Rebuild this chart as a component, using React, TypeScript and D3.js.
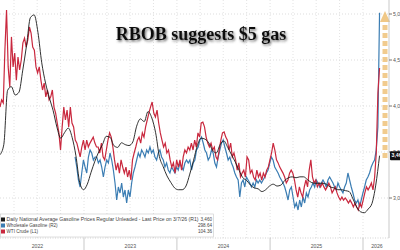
import * as React from 'react';
import * as d3 from 'd3';

// Daily national average gasoline price, $/gal (R1), evenly spaced Feb 2022 -> 3/7/26
const gasPrice = [
  3.47, 3.58, 4.17, 4.21, 4.12, 4.15, 4.39, 4.66, 4.96, 4.99, 4.80, 4.47, 4.25, 4.09, 3.95, 3.77, 3.65, 3.71, 3.76, 3.66,
  3.46, 3.17, 3.09, 3.15, 3.28, 3.40, 3.50, 3.58, 3.67, 3.66, 3.57, 3.55, 3.60, 3.58, 3.57, 3.61, 3.78, 3.86, 3.83, 3.94,
  3.87, 3.71, 3.45, 3.34, 3.24, 3.17, 3.11, 3.09, 3.09, 3.13, 3.26, 3.41, 3.57, 3.65, 3.64, 3.60, 3.52, 3.49, 3.58, 3.62,
  3.55, 3.47, 3.39, 3.30, 3.22, 3.19, 3.14, 3.11, 3.10, 3.07, 3.09, 3.13, 3.15, 3.13, 3.14, 3.19, 3.22, 3.23, 3.22, 3.23,
  3.23, 3.20, 3.17, 3.16, 3.16, 3.16, 3.15, 3.12, 3.11, 3.09, 3.09, 3.08, 3.07, 2.99, 2.90, 2.85, 2.84, 2.88, 2.94, 3.14,
  3.46,
];

// Wholesale gasoline, cents/gal (R2), Nov 2022 -> 3/7/26
const wholesale = [
  226.5, 221.5, 215, 211.5, 218.5, 225, 221.5, 218.5, 226.5, 230, 228.5, 225, 226.5,
  226.5, 223.5, 225, 221.5, 216.5, 221.5, 225, 223.5, 228.5, 225, 220, 213.5, 205, 211.5, 208.5, 213.5, 206.5, 210, 203.5, 210,
  206.5, 213.5, 218.5, 221.5, 225, 228.5, 226.5, 230, 228.5, 226.5, 230, 228.5, 231.5, 228.5, 230, 226.5, 225, 228.5, 230, 226.5,
  225, 221.5, 223.5, 220, 218.5, 221.5, 220, 218.5, 221.5, 220, 223.5, 221.5, 220, 223.5, 225, 223.5, 225,
  220, 223.5, 225, 230, 231.5, 235, 236.5, 233.5, 230, 228.5, 225, 226.5, 230, 228.5, 223.5, 221.5, 226.5, 230, 233.5, 235,
  231.5, 228.5, 225, 226.5, 223.5, 221.5, 218.5, 216.5, 215, 206.5, 213.5, 215, 211.5, 216.5, 215, 213.5, 211.5, 213.5, 211.5, 215,
  213.5, 215, 213.5, 215, 216.5, 218.5, 220, 223.5, 226.5, 225, 221.5, 220, 218.5, 216.5, 215, 213.5,
  211.5, 208.5, 205, 210, 211.5, 206.5, 201.5, 203.5, 200, 205, 201.5, 206.5, 203.5, 208.5, 206.5, 210, 211.5, 213.5, 211.5, 215,
  213.5, 211.5, 213.5, 215, 213.5, 211.5, 215, 216.5, 215, 213.5, 211.5, 210, 213.5, 211.5, 210, 208.5, 211.5, 213.5, 218.5, 215,
  211.5, 208.5, 205, 203.5, 205, 201.5, 205, 208.5, 211.5, 215, 216.5, 218.5, 221.5, 223.5, 225, 230, 241.5, 298.64,
];

// WTI crude, $/bbl (L1), Feb 2022 -> 3/7/26
const wti = [
  91.3, 93.7, 92.7, 110.3, 123.7, 104.7, 98, 114.7, 104.7, 109.3, 100.3, 108, 103.7, 107, 112.7, 114.3, 111.3, 113.7, 118, 116,
  111.3, 110.3, 104.7, 102.7, 104.7, 100.3, 97, 99.3, 94.7, 97, 93.7, 94.7, 97, 91.3, 89.3, 86, 82.7, 77, 84.7, 91.3,
  87, 90.3, 84.7, 91.3, 86, 84.7, 80.3, 79.3, 77, 74.7, 78, 80.3, 77, 80.3, 78, 79.3, 80.3, 81.3, 79.3, 78,
  78, 76, 79.3, 74.7, 73.7, 77, 80.3, 82.7, 81.3, 78, 73.7, 70.3, 72.7, 69.3, 73.7, 71.3, 69.3, 71.3, 68, 70.3,
  67, 73.7, 76, 78, 80.3, 81.3, 79.3, 82.7, 81.3, 84.7, 87, 89.3, 91.3, 93, 89.3, 88, 90.3, 86, 82.7, 80.3,
  78, 79.3, 76, 77, 73.7, 71.3, 72.7, 69.3, 73.7, 71.3, 73.7, 70.3, 74.7, 77, 76, 78, 77,
  79.3, 77, 80.3, 78, 82.7, 81.3, 86, 86.3, 84.7, 81.3, 79.3, 78, 79.3, 77, 78, 74.7, 73.7, 77, 80.3, 82.7,
  83, 81.3, 80.3, 77, 79.3, 74.7, 76, 73.7, 70.3, 72.7, 68, 69.3, 70.3, 68, 74.7, 73.7, 69.3, 70.3, 68, 67,
  70.3, 68, 69.3, 67, 69.3, 68, 70.3, 71.3, 73.7, 76, 79.3, 77, 73.7, 72.7, 71.3, 70.3, 69.3,
  68, 66, 67, 69.3, 70.3, 69.3, 67, 63.7, 61.3, 64.7, 62.7, 61.3, 64.7, 67, 64.7, 70.3, 73.7, 68, 66, 67,
  64.7, 66, 64.7, 66, 64.7, 63.7, 64.7, 66, 64.7, 62.7, 63.7, 64.7, 62.7, 61.3, 60.3, 61.3, 60.3, 61, 60.3, 59.3,
  60.3, 59.3, 58, 59.3, 58, 57, 59.3, 58, 60.3, 62.7, 64.7, 63.7, 64.7, 66, 63.7, 68, 76, 96, 104.36,
];

const rightTicks = [3, 3.5, 4, 4.5, 5];
const yearLabels = ['2022', '2023', '2024', '2025', '2026'];
const legendNames = [
  'Daily National Average Gasoline Prices Regular Unleaded - Last Price on 3/7/26 (R1)',
  'Wholesale Gasoline (R2)',
  'WTI Crude (L1)',
];
const legendValues = ['3,460', '298.64', '104.36'];
const lastGas = '3,460';

const W = 400;
const H = 250;
const plotRight = 389;
const plotBottom = 238;

const x = d3.scaleTime()
  .domain([new Date(2023, 0, 1), new Date(2026, 0, 1)])
  .range([84, 363]);
const yGas = d3.scaleLinear().domain([3, 5]).range([198, 14]);
const yWholesale = d3.scaleLinear().domain([305, 180]).range([0, 250]);
const yWti = d3.scaleLinear().domain([127, 60]).range([0, 201]);

const startMain = new Date(2022, 1, 5);
const startWholesale = new Date(2022, 10, 27);
const endDate = new Date(2026, 2, 7);

const pts = (vals: number[], start: Date) => {
  const t = d3.scaleLinear().domain([0, vals.length - 1]).range([start.getTime(), endDate.getTime()]);
  return vals.map((v, i) => ({ date: new Date(t(i)), v }));
};

const App = () => {
  const gasLine = d3.line<{ date: Date; v: number }>().x(d => x(d.date)).y(d => yGas(d.v)).curve(d3.curveMonotoneX);
  const wsLine = d3.line<{ date: Date; v: number }>().x(d => x(d.date)).y(d => yWholesale(d.v));
  const wtiLine = d3.line<{ date: Date; v: number }>().x(d => x(d.date)).y(d => yWti(d.v));

  const quarters = d3.timeMonth.every(3)!.range(new Date(2022, 3, 1), new Date(2026, 1, 1));
  const yearStarts = d3.timeYear.range(new Date(2023, 0, 1), new Date(2026, 0, 2));
  const yearCenters = [
    x(new Date(2022, 6, 2)), x(new Date(2023, 6, 2)), x(new Date(2024, 6, 2)), x(new Date(2025, 6, 2)),
    (x(new Date(2026, 0, 1)) + plotRight) / 2 + 1,
  ];
  const legendColors = ['#1a1a1a', '#3b7db3', '#c9283e'];
  const arrowX = 385;

  return (
    <svg width={W} height={H} style={{ position: 'absolute', left: 0, top: 0, background: '#fff' }}
      fontFamily="'Liberation Sans', Arial, sans-serif">
      <defs>
        <filter id="shadow" x="-10%" y="-30%" width="130%" height="180%">
          <feDropShadow dx="1.2" dy="1.5" stdDeviation="1.1" floodColor="#444" floodOpacity="0.8" />
        </filter>
      </defs>

      {/* grid */}
      {rightTicks.map(t => (
        <line key={t} x1={0} x2={plotRight} y1={yGas(t)} y2={yGas(t)} stroke="#d4d4d4" strokeWidth={0.8} strokeDasharray="1,2" />
      ))}
      {quarters.map(q => (
        <line key={+q} x1={x(q)} x2={x(q)} y1={0} y2={plotBottom} stroke="#dcdcdc" strokeWidth={0.8} strokeDasharray="1,2" />
      ))}
      <line x1={0} x2={plotRight} y1={plotBottom} y2={plotBottom} stroke="#c8c8c8" strokeWidth={0.8} strokeDasharray="1,1.5" />

      {/* series */}
      <path d={wsLine(pts(wholesale, startWholesale))!} fill="none" stroke="#3b7db3" strokeWidth={1.2} />
      <path d={wtiLine(pts(wti, startMain))!} fill="none" stroke="#c9283e" strokeWidth={1.2} />
      <path d={gasLine(pts(gasPrice, startMain))!} fill="none" stroke="#1a1a1a" strokeWidth={0.9} />

      {/* arrow */}
      <line x1={arrowX} x2={arrowX} y1={158} y2={22} stroke="#eec27a" strokeOpacity={0.85} strokeWidth={5} strokeDasharray="5,3" />
      <path d={`M${arrowX - 5},22 L${arrowX},11 L${arrowX + 5},22 Z`} fill="#eec27a" fillOpacity={0.9} />

      {/* right axis */}
      <line x1={plotRight} x2={plotRight} y1={0} y2={plotBottom} stroke="#bbb" strokeWidth={0.8} />
      {rightTicks.map(t => (
        <g key={t}>
          <line x1={plotRight} x2={plotRight + 3} y1={yGas(t)} y2={yGas(t)} stroke="#555" strokeWidth={0.8} />
          <text x={plotRight + 4} y={yGas(t) + 1.8} fontSize={5.2} fill="#555">{d3.format('.2f')(t).replace('.', ',')}</text>
        </g>
      ))}
      <rect x={plotRight + 1} y={yGas(3.46) - 4.5} width={12} height={9} fill="#111" rx={1} />
      <text x={plotRight + 2.5} y={yGas(3.46) + 1.8} fontSize={5.2} fill="#fff" fontWeight="bold">{lastGas}</text>

      {/* title */}
      <text x={201} y={39.5} textAnchor="middle" fontFamily="'Liberation Serif', 'Times New Roman', serif"
        fontWeight="bold" fontSize={18} fill="#111" filter="url(#shadow)">RBOB suggests $5 gas</text>

      {/* legend */}
      <rect x={0.5} y={214} width={213} height={23} fill="#fff" stroke="#c8c8c8" strokeWidth={0.6} />
      {legendNames.map((n, i) => (
        <g key={n}>
          <rect x={1} y={217.5 + i * 6} width={4} height={4} fill={legendColors[i]} />
          <text x={6.5} y={221.2 + i * 6} fontSize={4.6} fill="#444"
            textLength={i === 0 ? 192 : undefined} lengthAdjust="spacingAndGlyphs">{n}</text>
          <text x={212} y={221.2 + i * 6} fontSize={4.6} fill="#444" textAnchor="end">{legendValues[i]}</text>
        </g>
      ))}

      {/* x axis */}
      {yearStarts.map(d => (
        <line key={+d} x1={x(d)} x2={x(d)} y1={plotBottom} y2={H} stroke="#bbb" strokeWidth={0.8} />
      ))}
      {yearLabels.map((l, i) => (
        <text key={l} x={yearCenters[i]} y={248} fontSize={5.2} fill="#555" textAnchor="middle">{l}</text>
      ))}
    </svg>
  );
};

export default App;
